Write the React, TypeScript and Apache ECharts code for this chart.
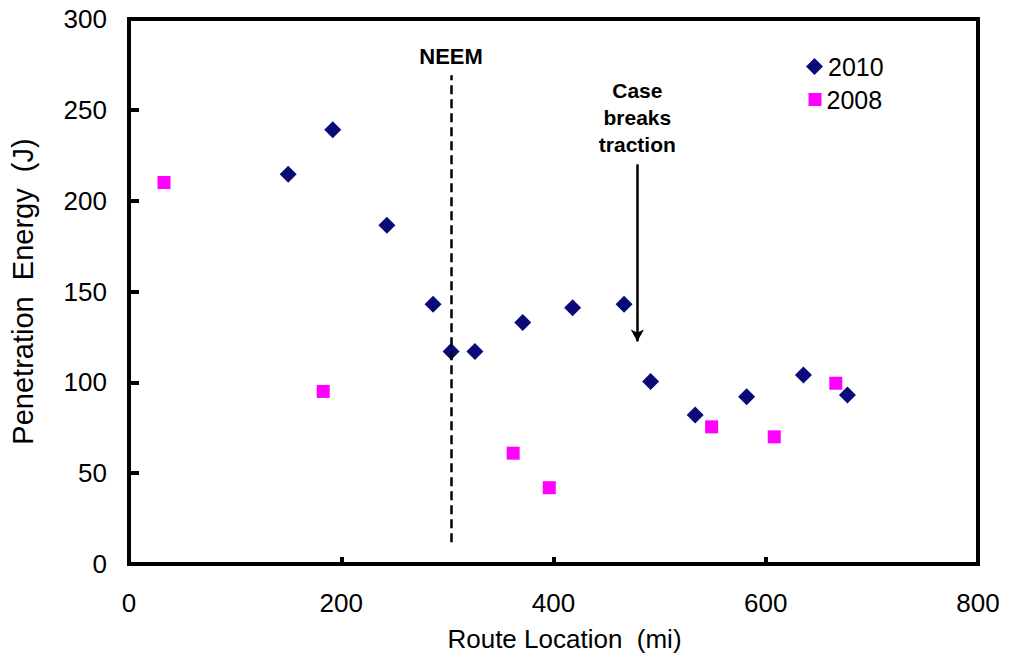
import React, { useEffect, useRef } from "react";
import * as echarts from "echarts";

const FONT = "'Liberation Sans', Arial, sans-serif";

const x2010 = [150, 192, 243, 286.5, 303.5, 326, 371, 418, 466.5, 491.5, 533.5, 582, 635.5, 677];
const y2010 = [214.5, 239, 186.5, 143, 117, 117, 133, 141, 143, 100.5, 82, 92, 104, 93];
const x2008 = [33, 183, 362, 396, 549, 608, 666];
const y2008 = [210, 95, 61, 42, 75.5, 70, 99.5];

const xTicks = { min: 0, max: 800, interval: 200 };
const yTicks = { min: 0, max: 300, interval: 50 };

const neemX = 303.5;
const neemRange = [12, 269];
const arrowX = 479;
const arrowRange = [220, 122.5];

export default function App() {
  const ref = useRef<HTMLDivElement>(null);
  useEffect(() => {
    document.body.style.margin = "0";
    const chart = echarts.init(ref.current!, null, { renderer: "svg" });
    const axisLine = { show: true, lineStyle: { color: "#000", width: 4 } };
    chart.setOption({
      animation: false,
      backgroundColor: "#fff",
      textStyle: { fontFamily: FONT },
      grid: {
        left: 129,
        right: 47,
        top: 19,
        bottom: 89,
        show: true,
        borderColor: "#000",
        borderWidth: 4,
      },
      legend: [
        {
          data: ["2010"],
          orient: "vertical",
          left: 801,
          top: 49,
          itemWidth: 17,
          itemHeight: 17,
          icon: "diamond",
          textStyle: { fontSize: 25, color: "#000", fontFamily: FONT },
        },
        {
          data: ["2008"],
          orient: "vertical",
          left: 803.5,
          top: 82,
          itemWidth: 13,
          itemHeight: 13,
          icon: "rect",
          textStyle: { fontSize: 25, color: "#000", fontFamily: FONT },
        },
      ],
      xAxis: {
        type: "value",
        ...xTicks,
        axisLine,
        axisTick: { show: true, inside: true, length: 7, lineStyle: { color: "#000", width: 4 } },
        splitLine: { show: false },
        axisLabel: { fontSize: 26, color: "#000", margin: 26, fontFamily: FONT },
        name: "Route Location  (mi)",
        nameLocation: "middle",
        nameGap: 62,
        nameTextStyle: { fontSize: 26, color: "#000", fontFamily: FONT, padding: [0, 0, 0, 22] },
      },
      yAxis: {
        type: "value",
        ...yTicks,
        axisLine,
        axisTick: { show: true, inside: true, length: 10, lineStyle: { color: "#000", width: 4 } },
        splitLine: { show: false },
        axisLabel: { fontSize: 26, color: "#000", margin: 22, fontFamily: FONT },
        name: "Penetration  Energy  (J)",
        nameLocation: "middle",
        nameRotate: 90,
        nameGap: 92,
        nameTextStyle: { fontSize: 29, color: "#000", fontFamily: FONT },
      },
      series: [
        {
          name: "2010",
          type: "scatter",
          symbol: "diamond",
          symbolSize: 17,
          itemStyle: { color: "#0a0a78", opacity: 1 },
          data: x2010.map((x, i) => [x, y2010[i]]),
          z: 3,
        },
        {
          name: "2008",
          type: "scatter",
          symbol: "rect",
          symbolSize: 13,
          itemStyle: { color: "#ff00ff", opacity: 1 },
          data: x2008.map((x, i) => [x, y2008[i]]),
          z: 3,
        },
        {
          name: "annotations",
          type: "scatter",
          data: [],
          markLine: {
            silent: true,
            animation: false,
            data: [
              [
                {
                  coord: [neemX, neemRange[0]],
                  symbol: "none",
                  lineStyle: { color: "#000", width: 2.5, type: [9, 5] },
                  label: {
                    show: true,
                    position: "end",
                    formatter: "NEEM",
                    fontSize: 22,
                    fontWeight: "bold",
                    color: "#000",
                    fontFamily: FONT,
                    distance: 8,
                  },
                },
                { coord: [neemX, neemRange[1]], symbol: "none" },
              ],
              [
                {
                  coord: [arrowX, arrowRange[0]],
                  symbol: "none",
                  lineStyle: { color: "#000", width: 2.5, type: "solid" },
                  label: {
                    show: true,
                    position: "start",
                    formatter: "Case\nbreaks\ntraction",
                    fontSize: 21,
                    lineHeight: 27,
                    fontWeight: "bold",
                    color: "#000",
                    fontFamily: FONT,
                    align: "center",
                    distance: 6,
                  },
                },
                { coord: [arrowX, arrowRange[1]], symbol: "arrow", symbolSize: [10, 12] },
              ],
            ],
          },
        },
      ],
    });
    return () => chart.dispose();
  }, []);
  return <div ref={ref} style={{ width: 1025, height: 657 }} />;
}
